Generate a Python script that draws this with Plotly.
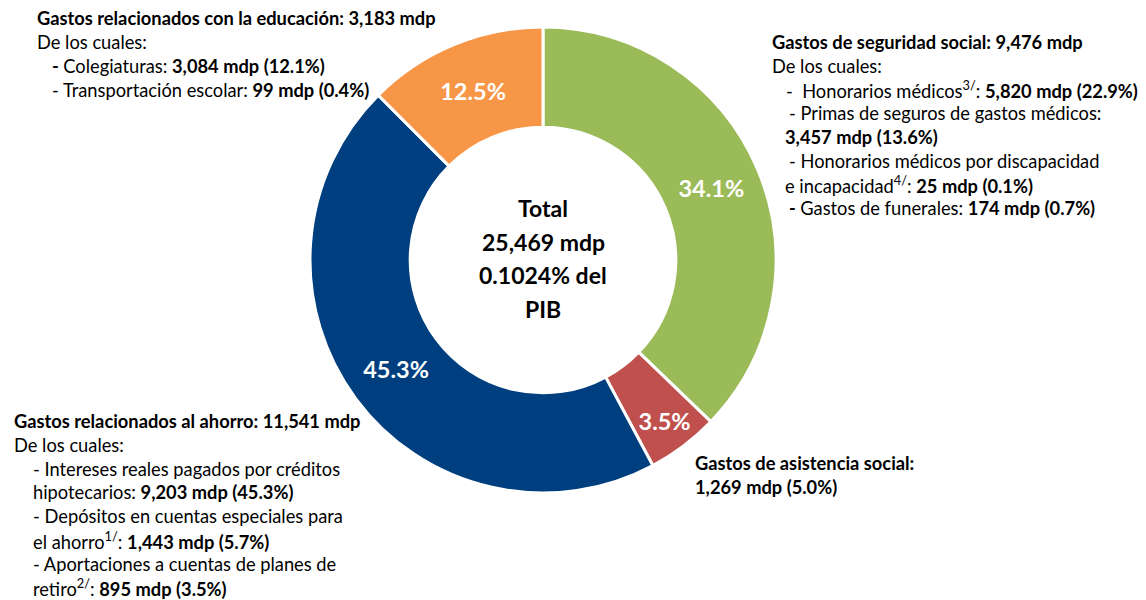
import plotly.graph_objects as go

categories = ["Gastos de seguridad social", "Gastos de asistencia social",
              "Gastos relacionados al ahorro", "Gastos relacionados con la educación"]
values = [9476, 1269, 11541, 3183]
slice_labels = ["34.1%", "3.5%", "45.3%", "12.5%"]
colors = ["#9BBB59", "#C0504D", "#003F7F", "#F79646"]

center_lines = ["Total", "25,469 mdp", "0.1024% del", "PIB"]

edu_lines = [
    "<b>Gastos relacionados con la educación: 3,183 mdp</b>",
    "De los cuales:",
    "<b>- </b>Colegiaturas: <b>3,084 mdp (12.1%)</b>",
    "- Transportación escolar: <b>99 mdp (0.4%)</b>",
]
seg_lines = [
    "<b>Gastos de seguridad social: 9,476 mdp</b>",
    "De los cuales:",
    "-  Honorarios médicos<sup>3/</sup>: <b>5,820 mdp (22.9%)</b>",
    "- Primas de seguros de gastos médicos:",
    "<b>3,457 mdp (13.6%)</b>",
    "- Honorarios médicos por discapacidad",
    "e incapacidad<sup>4/</sup>: <b>25 mdp (0.1%)</b>",
    "<b>- </b>Gastos de funerales: <b>174 mdp (0.7%)</b>",
]
ahorro_lines = [
    "<b>Gastos relacionados al ahorro: 11,541 mdp</b>",
    "De los cuales:",
    "- Intereses reales pagados por créditos",
    "hipotecarios: <b>9,203 mdp (45.3%)</b>",
    "- Depósitos en cuentas especiales para",
    "el ahorro<sup>1/</sup>: <b>1,443 mdp (5.7%)</b>",
    "- Aportaciones a cuentas de planes de",
    "retiro<sup>2/</sup>: <b>895 mdp (3.5%)</b>",
]
asis_lines = [
    "<b>Gastos de asistencia social:</b>",
    "<b>1,269 mdp (5.0%)</b>",
]

W, H = 1146, 600
FONT = "Lato"
TXT = 18.3

fig = go.Figure(go.Pie(
    labels=categories, values=values, text=slice_labels, textinfo="text",
    sort=False, direction="clockwise", rotation=0, hole=0.57,
    marker=dict(colors=colors, line=dict(color="white", width=3)),
    textposition="inside", insidetextorientation="horizontal",
    insidetextfont=dict(family=FONT, size=23.5, color="white", weight="bold"),
    domain=dict(x=[(543 - 233) / W, (543 + 233) / W], y=[1 - 493 / H, 1 - 27 / H]),
    showlegend=False, hoverinfo="label+value",
))

annotations = []

def add_lines(lines, x_list, y0, dy, size=TXT):
    for i, (line, x) in enumerate(zip(lines, x_list)):
        annotations.append(dict(
            text=line, x=x / W, y=1 - (y0 + i * dy) / H, xref="paper", yref="paper",
            xanchor="left", yanchor="middle", showarrow=False,
            font=dict(family=FONT, size=size, color="black"),
        ))

add_lines(edu_lines, [35, 35, 50, 50], 18, 24)
add_lines(seg_lines, [770, 770, 784, 787, 783, 787, 783, 787], 42, 23.7)
add_lines(ahorro_lines, [12, 12, 31, 31, 31, 31, 31, 31], 421, 23.8)
add_lines(asis_lines, [693, 693], 463, 24)

for i, line in enumerate(center_lines):
    annotations.append(dict(
        text="<b>" + line + "</b>", x=543 / W, y=1 - (208 + i * 33.5) / H,
        xref="paper", yref="paper", xanchor="center", yanchor="middle",
        showarrow=False, font=dict(family=FONT, size=23, color="black"),
    ))

fig.update_layout(
    width=W, height=H, margin=dict(l=0, r=0, t=0, b=0),
    paper_bgcolor="white", plot_bgcolor="white",
    annotations=annotations,
)

fig.write_html("out.html", config={"displayModeBar": False},
               post_script="document.body.style.margin='0';")
